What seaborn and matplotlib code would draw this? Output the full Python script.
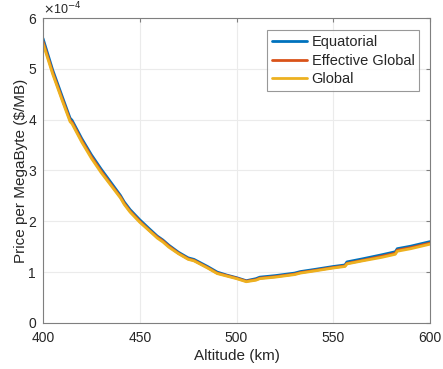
import numpy as np
import pandas as pd
import matplotlib
matplotlib.use("Agg")
import matplotlib.pyplot as plt
import seaborn as sns

# Datos (precio en unidades de 1e-4 $/MB)
altitud = [400, 405, 410, 414, 415, 420, 425, 430, 435, 440, 442, 445, 450,
           455, 459, 462, 465, 470, 475, 478, 485, 490, 495, 500, 505, 510,
           512, 520, 530, 533, 540, 550, 556, 557, 565, 575, 582, 583, 590, 600]

ecuatorial = [5.60, 4.98, 4.45, 4.03, 3.99, 3.63, 3.31, 3.03, 2.77, 2.51, 2.38,
              2.23, 2.03, 1.85, 1.71, 1.63, 1.53, 1.39, 1.28, 1.25, 1.11, 1.00,
              0.94, 0.89, 0.83, 0.87, 0.90, 0.93, 0.98, 1.01, 1.05, 1.11, 1.14,
              1.20, 1.26, 1.34, 1.40, 1.46, 1.51, 1.60]

global_efectivo = [5.54, 4.93, 4.40, 3.99, 3.95, 3.59, 3.27, 2.99, 2.73, 2.48, 2.35,
                   2.20, 2.00, 1.82, 1.69, 1.61, 1.51, 1.37, 1.26, 1.23, 1.09, 0.98,
                   0.93, 0.88, 0.82, 0.85, 0.88, 0.91, 0.96, 0.99, 1.03, 1.09, 1.12,
                   1.17, 1.23, 1.31, 1.37, 1.43, 1.48, 1.57]

global_ = [5.50, 4.90, 4.37, 3.96, 3.92, 3.56, 3.24, 2.96, 2.71, 2.46, 2.33,
           2.18, 1.98, 1.81, 1.67, 1.59, 1.49, 1.36, 1.25, 1.22, 1.08, 0.97,
           0.92, 0.87, 0.81, 0.84, 0.87, 0.90, 0.95, 0.98, 1.02, 1.08, 1.11,
           1.16, 1.22, 1.29, 1.35, 1.41, 1.46, 1.55]

series = ['Equatorial', 'Effective Global', 'Global']
colores = ['#0072BD', '#D95319', '#EDB120']

df = pd.DataFrame({
    'altitud': altitud * 3,
    'precio': ecuatorial + global_efectivo + global_,
    'serie': [series[0]] * len(altitud) + [series[1]] * len(altitud) + [series[2]] * len(altitud),
})

sns.set_style("white")
plt.rcParams['font.family'] = ['Liberation Sans', 'DejaVu Sans']

fig = plt.figure(figsize=(4.43, 3.69), dpi=100)
ax = fig.add_axes([0.097, 0.125, 0.874, 0.826])

sns.lineplot(data=df, x='altitud', y='precio', hue='serie', hue_order=series,
             palette=colores, linewidth=2, ax=ax, estimator=None, sort=False)

ax.set_xlim(400, 600)
ax.set_ylim(0, 6)
ax.set_xticks([400, 450, 500, 550, 600])
ax.set_yticks([0, 1, 2, 3, 4, 5, 6])
ax.grid(True, color='#ebebeb', linewidth=0.8)
ax.set_axisbelow(True)

gris = '#262626'
for s in ax.spines.values():
    s.set_color('#7f7f7f')
    s.set_linewidth(0.8)
ax.tick_params(direction='in', length=3, width=0.8, color='#7f7f7f',
               labelcolor=gris, labelsize=10, top=True, right=True)
ax.tick_params(axis='x', pad=6)
ax.tick_params(axis='y', pad=5)

ax.set_xlabel('Altitude (km)', fontsize=11, color=gris, labelpad=3)
ax.set_ylabel('Price per MegaByte ($/MB)', fontsize=11, color=gris, labelpad=0)
ax.text(0.0, 1.003, r'$\times$10$^{-4}$', transform=ax.transAxes,
        fontsize=9, color=gris, va='bottom', ha='left')

leg = ax.legend(loc='upper right', bbox_to_anchor=(0.98, 0.97), fontsize=10.5,
                frameon=True, fancybox=False, handlelength=2.4, handletextpad=0.3,
                borderpad=0.35, labelspacing=0.3, borderaxespad=0.2)
leg.get_frame().set_edgecolor('#7f7f7f')
leg.get_frame().set_linewidth(0.8)
for h in leg.get_lines():
    h.set_linewidth(2)

fig.savefig('out.png', dpi=100)
